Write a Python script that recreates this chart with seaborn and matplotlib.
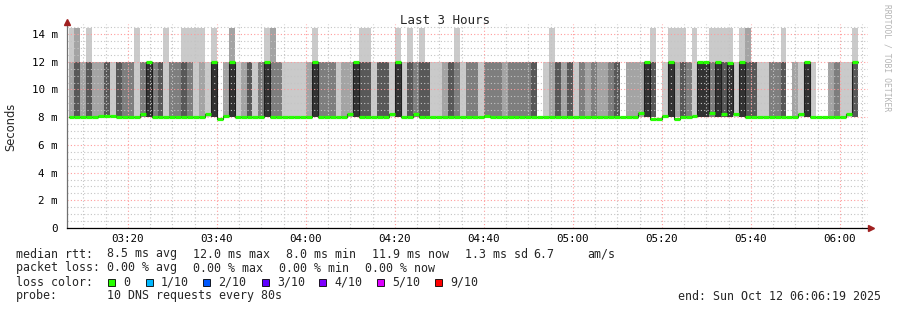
import numpy as np
import pandas as pd
import matplotlib
matplotlib.use("Agg")
import matplotlib.pyplot as plt
import matplotlib.dates as mdates
from matplotlib.ticker import MultipleLocator, FuncFormatter
from matplotlib.patches import Rectangle
import seaborn as sns

# ---------------- data ----------------
# pings per 80 s sample: 10 DNS requests; values cluster at ~8 ms, ~12 ms, ~14.4 ms
fast_ms, mid_ms, slow_ms = 8.0, 12.0, 14.4
n_fast = [8, 6, 8, 6, 8, 8, 6, 9, 6, 7, 7, 9, 7, 5, 7, 6, 9, 7, 7, 6, 7, 9, 8, 9, 5, 10, 8,
          5, 9, 8, 6, 9, 7, 5, 7, 7, 9, 9, 9, 9, 8, 5, 7, 7, 7, 9, 8, 8, 5, 6, 6, 9, 6,
          6, 9, 5, 9, 6, 7, 6, 6, 9, 9, 8, 6, 7, 9, 7, 7, 9, 7, 7, 7, 8, 7, 7, 7, 7, 6, 10, 9, 8,
          6, 8, 6, 9, 7, 8, 7, 8, 8, 7, 6, 10, 8, 8, 8, 5, 6, 10, 9, 5, 8, 6, 7, 9, 5, 5,
          7, 5, 6, 5, 9, 5, 6, 6, 9, 9, 7, 7, 6, 10, 8, 9, 5, 9, 10, 10, 8, 7, 9, 9, 4]
n_slow = [1, 2, 0, 1, 0, 0, 0, 0, 0, 0, 0, 1, 0, 0, 0, 0, 1, 0, 0, 1, 1, 1, 1, 0, 1, 0, 0,
          2, 0, 0, 0, 0, 0, 1, 2, 0, 0, 0, 0, 0, 0, 1, 0, 0, 0, 0, 0, 0, 0, 1, 1, 0, 0,
          0, 0, 1, 0, 1, 0, 1, 0, 0, 0, 0, 0, 1, 0, 0, 0, 0, 0, 0, 0, 0, 0, 0, 0, 0, 0, 0, 0, 1,
          0, 0, 0, 0, 0, 0, 0, 0, 0, 0, 0, 0, 0, 0, 0, 0, 1, 0, 0, 1, 1, 1, 0, 1, 0, 0,
          1, 1, 1, 1, 0, 1, 2, 0, 0, 0, 0, 0, 1, 0, 0, 0, 0, 0, 0, 0, 0, 0, 0, 0, 1]
median_ms = [8, 8, 8, 8, 8, 8.1, 8.1, 8.1, 8, 8, 8, 8, 8.2, 12, 8, 8, 8, 8, 8, 8, 8, 8, 8, 8.2, 12, 7.9, 8.1,
             12, 8, 8, 8, 8, 8, 12, 8, 8, 8, 8, 8, 8, 8, 12, 8, 8, 8, 8, 8, 8.2, 12, 8, 8, 8, 8,
             8, 8.2, 12, 8, 8, 8.2, 8, 8, 8, 8, 8, 8, 8, 8, 8, 8, 8, 8.1, 8, 8, 8, 8, 8, 8, 8, 8, 8, 8, 8,
             8, 8, 8, 8, 8, 8, 8, 8, 8, 8, 8, 8, 8, 8, 8.3, 12, 7.9, 7.9, 8.1, 12, 7.9, 8, 8, 8.1, 12, 12,
             8.3, 12, 8.2, 11.9, 8.2, 12, 8, 8, 8, 8, 8, 8, 8, 8, 8, 8.2, 12, 8, 8, 8, 8, 8, 8, 8.2, 12]
first_sample = "2025-10-12 03:06:40"
sample_step_s = 80
window = ("2025-10-12 03:06:19", "2025-10-12 06:06:19")

loss_labels = ["0", "1/10", "2/10", "3/10", "4/10", "5/10", "9/10"]
loss_colors = ["#26ff00", "#00b8ff", "#0059ff", "#5e00ff", "#7e00ff", "#dd00ff", "#ff0000"]

# ---------------- build pings ----------------
n = len(median_ms)
times = pd.Timestamp(first_sample) + pd.to_timedelta(np.arange(n) * sample_step_s, unit="s")
xnum = mdates.date2num(times.to_pydatetime())
width = sample_step_s / 86400.0
pings = np.array([[fast_ms] * f + [mid_ms] * (10 - f - s) + [slow_ms] * s
                  for f, s in zip(n_fast, n_slow)])
pings.sort(axis=1)

sns.set_style("white")
plt.rcParams['font.family'] = ['DejaVu Sans Mono', 'DejaVu Sans']

W, H = 897, 310
fig = plt.figure(figsize=(W / 100, H / 100), dpi=100)
ax = fig.add_axes([67 / W, 1 - 228 / H, (868 - 67) / W, (228 - 24) / H])

ppm = 13.857
ax.set_ylim(0, (228 - 24) / ppm)
ax.set_xlim(mdates.date2num(pd.Timestamp(window[0])), mdates.date2num(pd.Timestamp(window[1])))

# smoke
for p in range(1, 6):
    g = int(190 / 5 * (5 - p)) + 50
    col = "#%02x%02x%02x" % (g, g, g)
    lo = pings[:, p - 1]
    hi = pings[:, 10 - p]
    ax.bar(xnum, hi - lo, bottom=lo, width=width, align="edge", color=col,
           linewidth=0, antialiased=False, zorder=1)

# median step line
med_df = pd.DataFrame({"t": np.append(xnum, xnum[-1] + width),
                       "m": np.append(median_ms, median_ms[-1])})
sns.lineplot(data=med_df, x="t", y="m", drawstyle="steps-post", color="#202020",
             linewidth=0.8, ax=ax, zorder=4)
ax.hlines(median_ms, xnum, xnum + width, color=loss_colors[0], linewidth=2.3, zorder=5)

# grid
ax.yaxis.set_major_locator(MultipleLocator(2))
ax.yaxis.set_minor_locator(MultipleLocator(0.5))
ax.xaxis.set_major_locator(mdates.MinuteLocator(byminute=[0, 20, 40]))
ax.xaxis.set_minor_locator(mdates.MinuteLocator(byminute=range(0, 60, 5)))
ax.xaxis.set_major_formatter(mdates.DateFormatter("%H:%M"))
ax.yaxis.set_major_formatter(FuncFormatter(lambda v, _: "0" if v == 0 else f"{int(round(v))} m"))
ax.set_axisbelow(False)
ax.grid(which="major", color="#ff9c9c", linestyle=(0, (1, 2)), linewidth=0.8, zorder=2.5)
ax.grid(which="minor", color="#c4c4c4", linestyle=(0, (1, 2)), linewidth=0.8, zorder=2.4)

ax.tick_params(axis="both", which="major", labelsize=7.8, length=2.5, width=0.8, pad=2, colors="#000000")
ax.tick_params(axis="x", which="major", color="#ff6060")
ax.tick_params(axis="x", which="minor", length=2, color="#a0a0a0")
ax.tick_params(axis="y", which="minor", length=1.5, color="#a0a0a0")
ax.tick_params(axis="y", which="major", color="#a0a0a0", pad=4)
ax.set_xlabel("")
ax.set_ylabel("")

for side in ["top", "right"]:
    ax.spines[side].set_visible(False)
ax.spines["left"].set_color("#707070")
ax.spines["left"].set_linewidth(0.9)
ax.spines["bottom"].set_color("#000000")
ax.spines["bottom"].set_linewidth(0.9)
ax.spines["left"].set_zorder(6)
ax.spines["bottom"].set_zorder(6)
ax.plot([1.004], [0], marker=">", color="#a02020", ms=4, transform=ax.transAxes, clip_on=False, zorder=7)
ax.plot([0], [1.01], marker="^", color="#a02020", ms=4, transform=ax.transAxes, clip_on=False, zorder=7)

# texts
def px(x, y):
    return x / W, 1 - y / H

fig.text(*px(445, 20), "Last 3 Hours", ha="center", va="center", fontsize=9)
fig.text(*px(11, 127), "Seconds", rotation=90, ha="center", va="center", fontsize=8.3,
         family=["DejaVu Sans"])
fig.text(*px(887, 4), "RRDTOOL / TOBI OETIKER", rotation=270, ha="center", va="top",
         fontsize=5.8, color="#b4b4b4")

fs = 8.4
row1 = [(16, "median rtt:"), (107, "8.5 ms avg"), (193, "12.0 ms max"), (286, "8.0 ms min"),
        (372, "11.9 ms now"), (465, "1.3 ms sd"), (533, "6.7"), (587, "am/s")]
row2 = [(16, "packet loss:"), (107, "0.00 % avg"), (193, "0.00 % max"), (279, "0.00 % min"),
        (365, "0.00 % now")]
for x, t in row1:
    fig.text(*px(x, 254), t, ha="left", va="center", fontsize=fs)
for x, t in row2:
    fig.text(*px(x, 268), t, ha="left", va="center", fontsize=fs)

fig.text(*px(16, 282), "loss color:", ha="left", va="center", fontsize=fs)
sq_x = [108, 146, 203, 262, 319, 377, 435]
for sx, lab, col in zip(sq_x, loss_labels, loss_colors):
    fig.add_artist(Rectangle(px(sx, 285.5), 7 / W, 7 / H, transform=fig.transFigure,
                             facecolor=col, edgecolor="black", linewidth=0.6))
    fig.text(*px(sx + 15, 282), lab, ha="left", va="center", fontsize=fs)

fig.text(*px(16, 296), "probe:", ha="left", va="center", fontsize=fs)
fig.text(*px(107, 296), "10 DNS requests every 80s", ha="left", va="center", fontsize=fs)
fig.text(*px(881, 296), "end: Sun Oct 12 06:06:19 2025", ha="right", va="center", fontsize=fs)

fig.savefig("out.png", dpi=100, facecolor="white")
